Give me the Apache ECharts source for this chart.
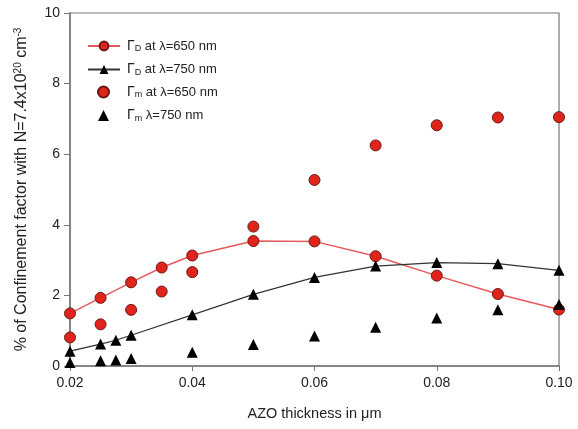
<!DOCTYPE html>
<html><head><meta charset="utf-8">
<script src="https://cdn.jsdelivr.net/npm/echarts@6/dist/echarts.min.js"></script>
<style>html,body{margin:0;padding:0;background:#fff}#c{width:578px;height:429px}</style>
</head><body><div id="c"></div>
<script>
var xRedLine = [0.02, 0.025, 0.03, 0.035, 0.04, 0.05, 0.06, 0.07, 0.08, 0.09, 0.10];
var yRedLine = [1.49, 1.93, 2.37, 2.79, 3.13, 3.54, 3.53, 3.11, 2.56, 2.04, 1.60];
var xRedPts = [0.02, 0.025, 0.03, 0.035, 0.04, 0.05, 0.06, 0.07, 0.08, 0.09, 0.10];
var yRedPts = [0.81, 1.18, 1.59, 2.11, 2.66, 3.95, 5.27, 6.25, 6.82, 7.04, 7.05];
var xBlkLine = [0.02, 0.025, 0.0275, 0.03, 0.04, 0.05, 0.06, 0.07, 0.08, 0.09, 0.10];
var yBlkLine = [0.42, 0.62, 0.73, 0.87, 1.45, 2.03, 2.51, 2.83, 2.93, 2.90, 2.71];
var xBlkPts = [0.02, 0.025, 0.0275, 0.03, 0.04, 0.05, 0.06, 0.07, 0.08, 0.09, 0.10];
var yBlkPts = [0.10, 0.15, 0.17, 0.21, 0.39, 0.61, 0.85, 1.10, 1.36, 1.59, 1.74];
var lineNames = ['GD650', 'GD750'];
var pointNames = ['Gm650', 'Gm750'];

function pairs(xs, ys) { return xs.map(function (x, i) { return [x, ys[i]]; }); }

var chart = echarts.init(document.getElementById('c'));
var font = 'Liberation Sans, Arial, sans-serif';
var legendLabels = {
  GD650: '{g|Γ}{s|D}{t| at λ=650 nm}',
  GD750: '{g|Γ}{s|D}{t| at λ=750 nm}',
  Gm650: '{g|Γ}{s|m}{t| at λ=650 nm}',
  Gm750: '{g|Γ}{s|m}{t| λ=750 nm}'
};
var rich = {
  g: { fontSize: 14, color: '#222', fontFamily: font },
  s: { fontSize: 9, color: '#222', verticalAlign: 'bottom', padding: [6, 0, 0, 0], fontFamily: font },
  t: { fontSize: 13, color: '#222', fontFamily: font }
};
var axisColor = '#777';
chart.setOption({
  animation: false,
  textStyle: { fontFamily: font },
  grid: { left: 70, right: 19, top: 13, bottom: 63, show: true, borderColor: axisColor, borderWidth: 1.2 },
  legend: [
    {
      orient: 'vertical', left: 82, top: 34, itemGap: 9, itemWidth: 32, itemHeight: 11,
      data: lineNames,
      formatter: function (n) { return legendLabels[n]; },
      textStyle: { fontFamily: font, fontSize: 13, color: '#222', padding: [0, 0, 0, 2], rich: rich }
    },
    {
      orient: 'vertical', left: 92, top: 80, itemGap: 9, itemWidth: 11, itemHeight: 11,
      data: pointNames,
      formatter: function (n) { return legendLabels[n]; },
      textStyle: { fontFamily: font, fontSize: 13, color: '#222', padding: [0, 0, 0, 13], rich: rich }
    }
  ],
  xAxis: {
    type: 'value', min: 0.02, max: 0.10, interval: 0.02,
    name: 'AZO thickness in μm', nameLocation: 'middle', nameGap: 40,
    nameTextStyle: { fontSize: 14.5, color: '#222', fontFamily: font },
    axisLine: { show: true, lineStyle: { color: axisColor, width: 1.5 } },
    axisTick: { show: true, length: 5, lineStyle: { color: axisColor } },
    splitLine: { show: false },
    axisLabel: { fontSize: 14, color: '#222', margin: 10, fontFamily: font,
      formatter: function (v) { return v.toFixed(2); } }
  },
  yAxis: {
    type: 'value', min: 0, max: 10, interval: 2,
    name: '{t|% of Confinement factor with N=7.4x10}{sup|20}{t| cm}{sup|-3}',
    nameLocation: 'middle', nameGap: 39,
    nameTextStyle: {
      fontFamily: font,
      rich: {
        t: { fontSize: 16, color: '#222', fontFamily: font },
        sup: { fontSize: 10, color: '#222', verticalAlign: 'top', padding: [0, 0, 8, 0], fontFamily: font }
      }
    },
    axisLine: { show: true, lineStyle: { color: axisColor, width: 1.5 } },
    axisTick: { show: true, length: 6, lineStyle: { color: axisColor } },
    splitLine: { show: false },
    axisLabel: { fontSize: 14, color: '#222', margin: 10, fontFamily: font }
  },
  series: [
    { name: 'GD650', type: 'line', data: pairs(xRedLine, yRedLine), symbol: 'circle', symbolSize: 11,
      lineStyle: { color: '#e8595a', width: 1.5 },
      itemStyle: { color: '#e0241c', borderColor: '#6a1a14', borderWidth: 1 }, z: 3 },
    { name: 'GD750', type: 'line', data: pairs(xBlkLine, yBlkLine), symbol: 'triangle', symbolSize: 11,
      lineStyle: { color: '#333', width: 1.2 },
      itemStyle: { color: '#000', borderColor: '#000', borderWidth: 0 }, z: 3 },
    { name: 'Gm650', type: 'scatter', data: pairs(xRedPts, yRedPts), symbol: 'circle', symbolSize: 11,
      itemStyle: { color: '#e0241c', borderColor: '#6a1a14', borderWidth: 1, opacity: 1 }, z: 4 },
    { name: 'Gm750', type: 'scatter', data: pairs(xBlkPts, yBlkPts), symbol: 'triangle', symbolSize: 11,
      itemStyle: { color: '#000', opacity: 1 }, z: 4 }
  ]
});
</script></body></html>
